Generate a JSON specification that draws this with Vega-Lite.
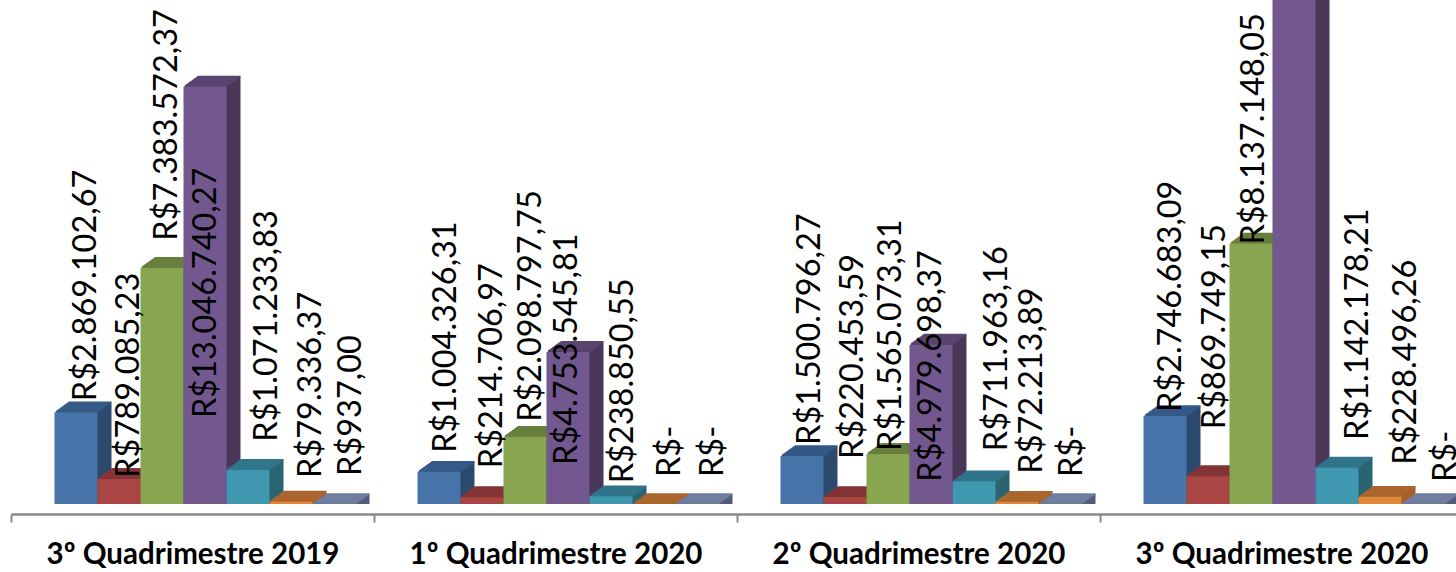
{"$schema":"https://vega.github.io/schema/vega-lite/v6.json","autosize":{"type":"none"},"padding":{"left":11,"top":0,"right":0,"bottom":68},"width":1452,"height":504,"background":"white","config":{"view":{"stroke":null}},
"resolve":{"scale":{"xOffset":"independent"}},
"data":{"values":[
{"id":1,"group":"3º Quadrimestre 2019","series":"A","value":2869102.67,"label":"R$2.869.102,67"},
{"id":2,"group":"3º Quadrimestre 2019","series":"B","value":789085.23,"label":"R$789.085,23"},
{"id":3,"group":"3º Quadrimestre 2019","series":"C","value":7383572.37,"label":"R$7.383.572,37"},
{"id":4,"group":"3º Quadrimestre 2019","series":"D","value":13046740.27,"label":"R$13.046.740,27"},
{"id":5,"group":"3º Quadrimestre 2019","series":"E","value":1071233.83,"label":"R$1.071.233,83"},
{"id":6,"group":"3º Quadrimestre 2019","series":"F","value":79336.37,"label":"R$79.336,37"},
{"id":7,"group":"3º Quadrimestre 2019","series":"G","value":937,"label":"R$937,00"},
{"id":8,"group":"1º Quadrimestre 2020","series":"A","value":1004326.31,"label":"R$1.004.326,31"},
{"id":9,"group":"1º Quadrimestre 2020","series":"B","value":214706.97,"label":"R$214.706,97"},
{"id":10,"group":"1º Quadrimestre 2020","series":"C","value":2098797.75,"label":"R$2.098.797,75"},
{"id":11,"group":"1º Quadrimestre 2020","series":"D","value":4753545.81,"label":"R$4.753.545,81"},
{"id":12,"group":"1º Quadrimestre 2020","series":"E","value":238850.55,"label":"R$238.850,55"},
{"id":13,"group":"1º Quadrimestre 2020","series":"F","value":0,"label":"R$-"},
{"id":14,"group":"1º Quadrimestre 2020","series":"G","value":0,"label":"R$-"},
{"id":15,"group":"2º Quadrimestre 2020","series":"A","value":1500796.27,"label":"R$1.500.796,27"},
{"id":16,"group":"2º Quadrimestre 2020","series":"B","value":220453.59,"label":"R$220.453,59"},
{"id":17,"group":"2º Quadrimestre 2020","series":"C","value":1565073.31,"label":"R$1.565.073,31"},
{"id":18,"group":"2º Quadrimestre 2020","series":"D","value":4979698.37,"label":"R$4.979.698,37"},
{"id":19,"group":"2º Quadrimestre 2020","series":"E","value":711963.16,"label":"R$711.963,16"},
{"id":20,"group":"2º Quadrimestre 2020","series":"F","value":72213.89,"label":"R$72.213,89"},
{"id":21,"group":"2º Quadrimestre 2020","series":"G","value":0,"label":"R$-"},
{"id":22,"group":"3º Quadrimestre 2020","series":"A","value":2746683.09,"label":"R$2.746.683,09"},
{"id":23,"group":"3º Quadrimestre 2020","series":"B","value":869749.15,"label":"R$869.749,15"},
{"id":24,"group":"3º Quadrimestre 2020","series":"C","value":8137148.05,"label":"R$8.137.148,05"},
{"id":25,"group":"3º Quadrimestre 2020","series":"D","value":16500000,"label":""},
{"id":26,"group":"3º Quadrimestre 2020","series":"E","value":1142178.21,"label":"R$1.142.178,21"},
{"id":27,"group":"3º Quadrimestre 2020","series":"F","value":228496.26,"label":"R$228.496,26"},
{"id":28,"group":"3º Quadrimestre 2020","series":"G","value":0,"label":"R$-"}
]},
"encoding":{
"x":{"field":"group","type":"nominal","sort":null,"scale":{"paddingInner":0,"paddingOuter":0},"axis":{"title":null,"labelAngle":0,"labelFont":"Lato","labelFontWeight":"bold","labelFontSize":29.5,"labelColor":"#000000","labelPadding":18,"labelLimit":0,"tickBand":"extent","tickSize":8,"tickWidth":2,"tickColor":"#8a8a8a","domainColor":"#8a8a8a","domainWidth":2.5,"offset":10,"grid":false}},
"xOffset":{"field":"series","type":"nominal","sort":null,"scale":{"range":[43.5,344.5],"paddingInner":0,"paddingOuter":0}},
"y":{"field":"value","type":"quantitative","stack":null,"scale":{"domain":[0,15750000],"nice":false,"zero":true},"axis":null}
},
"layer":[
{"resolve":{"scale":{"xOffset":"independent"}},"encoding":{"color":{"field":"series","type":"nominal","legend":null,"scale":{"domain":["A","B","C","D","E","F","G"],"range":["#2d4a6e","#6f2e2c","#5a6e34","#4a3759","#2a6572","#a3612c","#505c78"]}}},
"layer":[
{"mark":{"type":"bar","yOffset":-10,"y2Offset":-10},"encoding":{"xOffset":{"field":"series","type":"nominal","sort":null,"scale":{"range":[57.5,358.5],"paddingInner":0,"paddingOuter":0}}}},
{"mark":{"type":"bar","yOffset":-9,"y2Offset":-9},"encoding":{"xOffset":{"field":"series","type":"nominal","sort":null,"scale":{"range":[56.1,357.1],"paddingInner":0,"paddingOuter":0}}}},
{"mark":{"type":"bar","yOffset":-8,"y2Offset":-8},"encoding":{"xOffset":{"field":"series","type":"nominal","sort":null,"scale":{"range":[54.7,355.7],"paddingInner":0,"paddingOuter":0}}}},
{"mark":{"type":"bar","yOffset":-7,"y2Offset":-7},"encoding":{"xOffset":{"field":"series","type":"nominal","sort":null,"scale":{"range":[53.3,354.3],"paddingInner":0,"paddingOuter":0}}}},
{"mark":{"type":"bar","yOffset":-6,"y2Offset":-6},"encoding":{"xOffset":{"field":"series","type":"nominal","sort":null,"scale":{"range":[51.9,352.9],"paddingInner":0,"paddingOuter":0}}}},
{"mark":{"type":"bar","yOffset":-5,"y2Offset":-5},"encoding":{"xOffset":{"field":"series","type":"nominal","sort":null,"scale":{"range":[50.5,351.5],"paddingInner":0,"paddingOuter":0}}}},
{"mark":{"type":"bar","yOffset":-4,"y2Offset":-4},"encoding":{"xOffset":{"field":"series","type":"nominal","sort":null,"scale":{"range":[49.1,350.1],"paddingInner":0,"paddingOuter":0}}}},
{"mark":{"type":"bar","yOffset":-3,"y2Offset":-3},"encoding":{"xOffset":{"field":"series","type":"nominal","sort":null,"scale":{"range":[47.7,348.7],"paddingInner":0,"paddingOuter":0}}}},
{"mark":{"type":"bar","yOffset":-2,"y2Offset":-2},"encoding":{"xOffset":{"field":"series","type":"nominal","sort":null,"scale":{"range":[46.3,347.3],"paddingInner":0,"paddingOuter":0}}}},
{"mark":{"type":"bar","yOffset":-1,"y2Offset":-1},"encoding":{"xOffset":{"field":"series","type":"nominal","sort":null,"scale":{"range":[44.9,345.9],"paddingInner":0,"paddingOuter":0}}}}
]},
{"resolve":{"scale":{"xOffset":"independent"}},"encoding":{"y2":{"field":"value"},"stroke":{"field":"series","type":"nominal","legend":null,"scale":{"domain":["A","B","C","D","E","F","G"],"range":["#365a87","#843534","#687f3d","#5a4470","#30758a","#ab662d","#7180a2"]}}},
"layer":[
{"mark":{"type":"bar","strokeWidth":1.6,"yOffset":-10,"y2Offset":-10},"encoding":{"xOffset":{"field":"series","type":"nominal","sort":null,"scale":{"range":[57.5,358.5],"paddingInner":0,"paddingOuter":0}}}},
{"mark":{"type":"bar","strokeWidth":1.6,"yOffset":-9,"y2Offset":-9},"encoding":{"xOffset":{"field":"series","type":"nominal","sort":null,"scale":{"range":[56.1,357.1],"paddingInner":0,"paddingOuter":0}}}},
{"mark":{"type":"bar","strokeWidth":1.6,"yOffset":-8,"y2Offset":-8},"encoding":{"xOffset":{"field":"series","type":"nominal","sort":null,"scale":{"range":[54.7,355.7],"paddingInner":0,"paddingOuter":0}}}},
{"mark":{"type":"bar","strokeWidth":1.6,"yOffset":-7,"y2Offset":-7},"encoding":{"xOffset":{"field":"series","type":"nominal","sort":null,"scale":{"range":[53.3,354.3],"paddingInner":0,"paddingOuter":0}}}},
{"mark":{"type":"bar","strokeWidth":1.6,"yOffset":-6,"y2Offset":-6},"encoding":{"xOffset":{"field":"series","type":"nominal","sort":null,"scale":{"range":[51.9,352.9],"paddingInner":0,"paddingOuter":0}}}},
{"mark":{"type":"bar","strokeWidth":1.6,"yOffset":-5,"y2Offset":-5},"encoding":{"xOffset":{"field":"series","type":"nominal","sort":null,"scale":{"range":[50.5,351.5],"paddingInner":0,"paddingOuter":0}}}},
{"mark":{"type":"bar","strokeWidth":1.6,"yOffset":-4,"y2Offset":-4},"encoding":{"xOffset":{"field":"series","type":"nominal","sort":null,"scale":{"range":[49.1,350.1],"paddingInner":0,"paddingOuter":0}}}},
{"mark":{"type":"bar","strokeWidth":1.6,"yOffset":-3,"y2Offset":-3},"encoding":{"xOffset":{"field":"series","type":"nominal","sort":null,"scale":{"range":[47.7,348.7],"paddingInner":0,"paddingOuter":0}}}},
{"mark":{"type":"bar","strokeWidth":1.6,"yOffset":-2,"y2Offset":-2},"encoding":{"xOffset":{"field":"series","type":"nominal","sort":null,"scale":{"range":[46.3,347.3],"paddingInner":0,"paddingOuter":0}}}},
{"mark":{"type":"bar","strokeWidth":1.6,"yOffset":-1,"y2Offset":-1},"encoding":{"xOffset":{"field":"series","type":"nominal","sort":null,"scale":{"range":[44.9,345.9],"paddingInner":0,"paddingOuter":0}}}}
]},
{"mark":{"type":"bar"},"encoding":{"fill":{"field":"series","type":"nominal","legend":null,"scale":{"domain":["A","B","C","D","E","F","G"],"range":["#4674a8","#a94643","#88a54f","#73588f","#3f97b0","#e08638","#70809f"]}}}},
{"encoding":{"text":{"field":"label"},"xOffset":{"field":"series","type":"nominal","sort":null,"scale":{"type":"point","domain":["A","B","C","D","E","F","G"],"range":[65,323],"padding":0}}},
"layer":[
{"transform":[{"filter":"datum.id==1"}],"mark":{"type":"text","font":"Lato","fontSize":32.5,"angle":270,"align":"left","baseline":"middle","color":"#000","dy":9.5,"yOffset":-11}},
{"transform":[{"filter":"datum.id==2"}],"mark":{"type":"text","font":"Lato","fontSize":32.5,"angle":270,"align":"left","baseline":"middle","color":"#000","dy":10,"yOffset":-1}},
{"transform":[{"filter":"datum.id==3"}],"mark":{"type":"text","font":"Lato","fontSize":32.5,"angle":270,"align":"left","baseline":"middle","color":"#000","dy":5,"yOffset":-27}},
{"transform":[{"filter":"datum.id==4"}],"mark":{"type":"text","font":"Lato","fontSize":32.5,"angle":270,"align":"left","baseline":"middle","color":"#000","dy":1,"yOffset":331.5}},
{"transform":[{"filter":"datum.id==5"}],"mark":{"type":"text","font":"Lato","fontSize":32.5,"angle":270,"align":"left","baseline":"middle","color":"#000","dy":19,"yOffset":-28}},
{"transform":[{"filter":"datum.id==6"}],"mark":{"type":"text","font":"Lato","fontSize":32.5,"angle":270,"align":"left","baseline":"middle","color":"#000","dy":20,"yOffset":-23.5}},
{"transform":[{"filter":"datum.id==7"}],"mark":{"type":"text","font":"Lato","fontSize":32.5,"angle":270,"align":"left","baseline":"middle","color":"#000","dy":17,"yOffset":-28}},
{"transform":[{"filter":"datum.id==8"}],"mark":{"type":"text","font":"Lato","fontSize":32.5,"angle":270,"align":"left","baseline":"middle","color":"#000","dy":6.5,"yOffset":-19}},
{"transform":[{"filter":"datum.id==9"}],"mark":{"type":"text","font":"Lato","fontSize":32.5,"angle":270,"align":"left","baseline":"middle","color":"#000","dy":10,"yOffset":-29}},
{"transform":[{"filter":"datum.id==10"}],"mark":{"type":"text","font":"Lato","fontSize":32.5,"angle":270,"align":"left","baseline":"middle","color":"#000","dy":6,"yOffset":-15}},
{"transform":[{"filter":"datum.id==11"}],"mark":{"type":"text","font":"Lato","fontSize":32.5,"angle":270,"align":"left","baseline":"middle","color":"#000","dy":-1,"yOffset":113}},
{"transform":[{"filter":"datum.id==12"}],"mark":{"type":"text","font":"Lato","fontSize":32.5,"angle":270,"align":"left","baseline":"middle","color":"#000","dy":11.5,"yOffset":-13}},
{"transform":[{"filter":"datum.id==13"}],"mark":{"type":"text","font":"Lato","fontSize":32.5,"angle":270,"align":"left","baseline":"middle","color":"#000","dy":15.5,"yOffset":-27}},
{"transform":[{"filter":"datum.id==14"}],"mark":{"type":"text","font":"Lato","fontSize":32.5,"angle":270,"align":"left","baseline":"middle","color":"#000","dy":16,"yOffset":-27}},
{"transform":[{"filter":"datum.id==15"}],"mark":{"type":"text","font":"Lato","fontSize":32.5,"angle":270,"align":"left","baseline":"middle","color":"#000","dy":7.5,"yOffset":-11}},
{"transform":[{"filter":"datum.id==16"}],"mark":{"type":"text","font":"Lato","fontSize":32.5,"angle":270,"align":"left","baseline":"middle","color":"#000","dy":8,"yOffset":-38}},
{"transform":[{"filter":"datum.id==17"}],"mark":{"type":"text","font":"Lato","fontSize":32.5,"angle":270,"align":"left","baseline":"middle","color":"#000","dy":3,"yOffset":-3}},
{"transform":[{"filter":"datum.id==18"}],"mark":{"type":"text","font":"Lato","fontSize":32.5,"angle":270,"align":"left","baseline":"middle","color":"#000","dy":0,"yOffset":137}},
{"transform":[{"filter":"datum.id==19"}],"mark":{"type":"text","font":"Lato","fontSize":32.5,"angle":270,"align":"left","baseline":"middle","color":"#000","dy":23,"yOffset":-30}},
{"transform":[{"filter":"datum.id==20"}],"mark":{"type":"text","font":"Lato","fontSize":32.5,"angle":270,"align":"left","baseline":"middle","color":"#000","dy":15,"yOffset":-28}},
{"transform":[{"filter":"datum.id==21"}],"mark":{"type":"text","font":"Lato","fontSize":32.5,"angle":270,"align":"left","baseline":"middle","color":"#000","dy":12,"yOffset":-27}},
{"transform":[{"filter":"datum.id==22"}],"mark":{"type":"text","font":"Lato","fontSize":32.5,"angle":270,"align":"left","baseline":"middle","color":"#000","dy":5.5,"yOffset":-4}},
{"transform":[{"filter":"datum.id==23"}],"mark":{"type":"text","font":"Lato","fontSize":32.5,"angle":270,"align":"left","baseline":"middle","color":"#000","dy":7,"yOffset":-47}},
{"transform":[{"filter":"datum.id==24"}],"mark":{"type":"text","font":"Lato","fontSize":32.5,"angle":270,"align":"left","baseline":"middle","color":"#000","dy":3,"yOffset":1}},
{"transform":[{"filter":"datum.id==26"}],"mark":{"type":"text","font":"Lato","fontSize":32.5,"angle":270,"align":"left","baseline":"middle","color":"#000","dy":21,"yOffset":-27.5}},
{"transform":[{"filter":"datum.id==27"}],"mark":{"type":"text","font":"Lato","fontSize":32.5,"angle":270,"align":"left","baseline":"middle","color":"#000","dy":26,"yOffset":-32}},
{"transform":[{"filter":"datum.id==28"}],"mark":{"type":"text","font":"Lato","fontSize":32.5,"angle":270,"align":"left","baseline":"middle","color":"#000","dy":23,"yOffset":-22}}
]}
]}
